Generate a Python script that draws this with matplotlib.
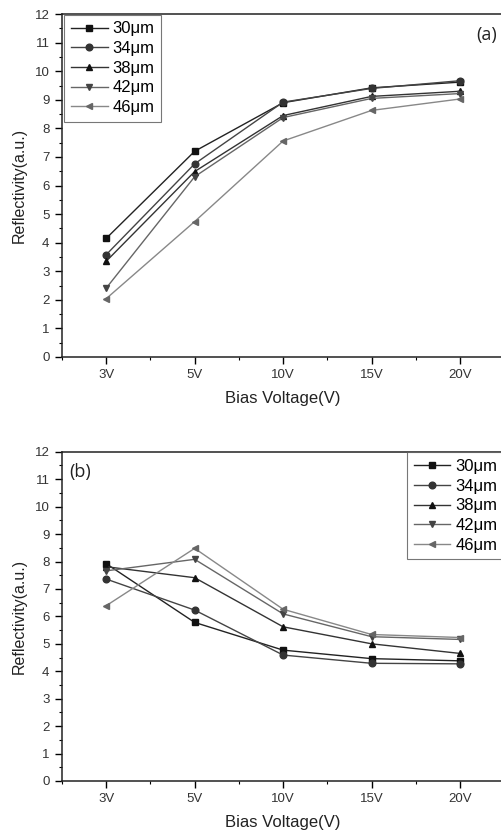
import numpy as np
import matplotlib.pyplot as plt
from matplotlib.ticker import MultipleLocator

plt.rcParams['font.family'] = ['Liberation Sans', 'DejaVu Sans']

# --- data ---
voltages = ['3V', '5V', '10V', '15V', '20V']
widths = ['30μm', '34μm', '38μm', '42μm', '46μm']

# (a)
refl_a_30 = [4.15, 7.20, 8.90, 9.42, 9.62]
refl_a_34 = [3.58, 6.76, 8.92, 9.40, 9.67]
refl_a_38 = [3.35, 6.49, 8.45, 9.12, 9.30]
refl_a_42 = [2.41, 6.31, 8.38, 9.05, 9.22]
refl_a_46 = [2.04, 4.74, 7.56, 8.63, 9.03]

# (b)
refl_b_30 = [7.92, 5.78, 4.77, 4.46, 4.38]
refl_b_34 = [7.36, 6.23, 4.59, 4.29, 4.27]
refl_b_38 = [7.81, 7.41, 5.62, 5.00, 4.65]
refl_b_42 = [7.66, 8.08, 6.09, 5.26, 5.16]
refl_b_46 = [6.39, 8.48, 6.26, 5.34, 5.23]

markers = ['s', 'o', '^', 'v', '<']
line_colors = ['#222222', '#444444', '#333333', '#666666', '#888888']
marker_colors = ['#111111', '#333333', '#111111', '#444444', '#666666']


def draw_panel(ax, series, tag, tag_xy, legend_anchor):
    x = np.arange(1, len(voltages) + 1)
    for vals, lab, m, lc, mc in zip(series, widths, markers, line_colors, marker_colors):
        ax.plot(x, vals, marker=m, color=lc, mfc=mc, mec=mc, lw=1.0,
                markersize=4.8, label=lab)

    ax.set_xlim(0.5, 5.5)
    ax.set_ylim(0, 12)
    ax.set_xticks(x)
    ax.set_xticklabels(voltages)
    ax.xaxis.set_minor_locator(MultipleLocator(0.5))
    ax.yaxis.set_major_locator(MultipleLocator(1))
    ax.yaxis.set_minor_locator(MultipleLocator(0.5))
    ax.tick_params(which='major', direction='out', length=5, width=1,
                   labelsize=9.5, labelcolor='#333333', pad=4,
                   top=False, right=False)
    ax.tick_params(which='minor', direction='out', length=2.5, width=0.8,
                   top=False, right=False)
    for s in ax.spines.values():
        s.set_linewidth(1.1)
        s.set_color('#222222')

    ax.set_xlabel('Bias Voltage(V)', fontsize=12, color='#222222', labelpad=7)
    ax.set_ylabel('Reflectivity(a.u.)', fontsize=11.5, color='#222222', labelpad=6)

    ax.text(tag_xy[0], tag_xy[1], tag, transform=ax.transAxes, fontsize=13,
            family=['Open Sans', 'DejaVu Sans'], color='#222222',
            ha='left', va='center')

    leg = ax.legend(loc='upper left', bbox_to_anchor=legend_anchor,
                    fontsize=12, frameon=True, fancybox=False,
                    handlelength=2.2, handletextpad=0.3, labelspacing=0.28,
                    borderpad=0.4, borderaxespad=0.0)
    leg.get_frame().set_edgecolor('#555555')
    leg.get_frame().set_linewidth(0.8)


fig = plt.figure(figsize=(5.02, 8.32), dpi=100)

# panels run slightly past the right edge of the picture, as in the source
ax_a = fig.add_axes([0.1235, 0.571, 0.881, 0.412])
ax_b = fig.add_axes([0.1235, 0.0613, 0.881, 0.3957])

draw_panel(ax_a, [refl_a_30, refl_a_34, refl_a_38, refl_a_42, refl_a_46],
           '(a)', (0.936, 0.94), (0.005, 0.998))
draw_panel(ax_b, [refl_b_30, refl_b_34, refl_b_38, refl_b_42, refl_b_46],
           '(b)', (0.016, 0.94), (0.78, 0.998))

fig.savefig('out.png', dpi=100)
